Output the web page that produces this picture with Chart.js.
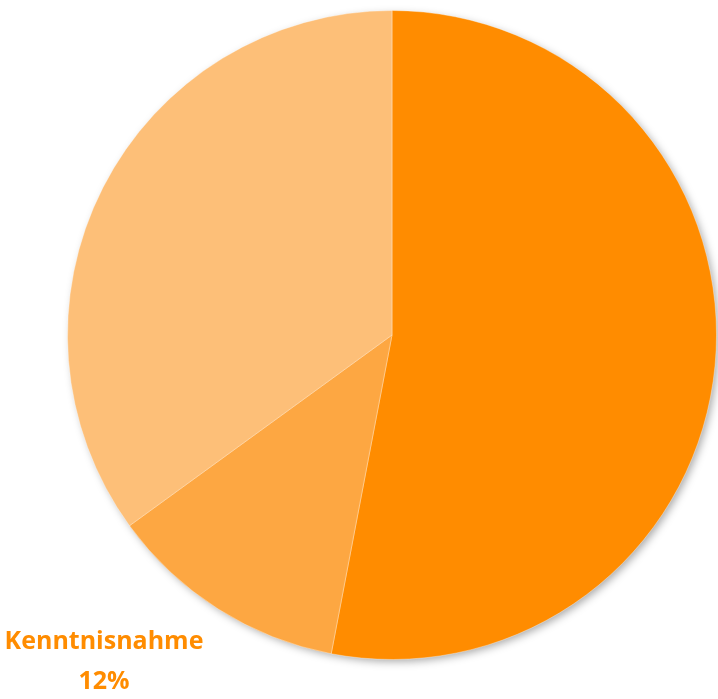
<!DOCTYPE html>
<html>
<head>
<meta charset="utf-8">
<script src="https://cdn.jsdelivr.net/npm/chart.js@4"></script>
<style>
  html, body { margin: 0; padding: 0; background: #fff; }
  #wrap { width: 718px; height: 699px; position: relative; }
</style>
</head>
<body>
<div id="wrap"><canvas id="pie-chart" width="718" height="699"></canvas></div>
<script>
const categories = ['Zustimmung', 'Kenntnisnahme', 'Ablehnung'];
const shares = [53, 12, 35];
const sliceColors = ['#FF8C00', '#FDA742', '#FDBF78'];
// only this slice's label is visible in the picture
const shownLabels = [1];

// soft shadow behind the whole pie, drawn once so inner edges stay clean
const shadowPlugin = {
  id: 'shadow',
  beforeDatasetsDraw(chart) {
    const arc = chart.getDatasetMeta(0).data[0];
    if (!arc) return;
    const ctx = chart.ctx;
    ctx.save();
    ctx.shadowColor = 'rgba(0,0,0,0.35)';
    ctx.shadowBlur = 8;
    ctx.shadowOffsetX = 3;
    ctx.shadowOffsetY = 3;
    ctx.fillStyle = '#FF8C00';
    ctx.beginPath();
    ctx.arc(arc.x, arc.y, arc.outerRadius - 1, 0, Math.PI * 2);
    ctx.fill();
    ctx.restore();
  }
};

const labelPlugin = {
  id: 'sliceLabels',
  afterDraw(chart) {
    const ctx = chart.ctx;
    ctx.save();
    ctx.fillStyle = '#FF8C00';
    ctx.font = 'bold 25px "Open Sans", Lato, sans-serif';
    ctx.textAlign = 'center';
    ctx.textBaseline = 'middle';
    shownLabels.forEach(i => {
      ctx.fillText(categories[i], 104, 642);
      ctx.fillText(shares[i] + '%', 104, 682);
    });
    ctx.restore();
  }
};

const ctx = document.getElementById('pie-chart').getContext('2d');
new Chart(ctx, {
  type: 'pie',
  data: {
    labels: categories,
    datasets: [{
      data: shares,
      backgroundColor: sliceColors,
      borderColor: 'rgba(255,255,255,0.35)',
      borderWidth: 1
    }]
  },
  options: {
    responsive: false,
    animation: false,
    layout: { padding: { left: 67, right: 1, top: 10, bottom: 39 } },
    plugins: {
      legend: { display: false },
      tooltip: { enabled: false }
    }
  },
  plugins: [shadowPlugin, labelPlugin]
});
</script>
</body>
</html>
